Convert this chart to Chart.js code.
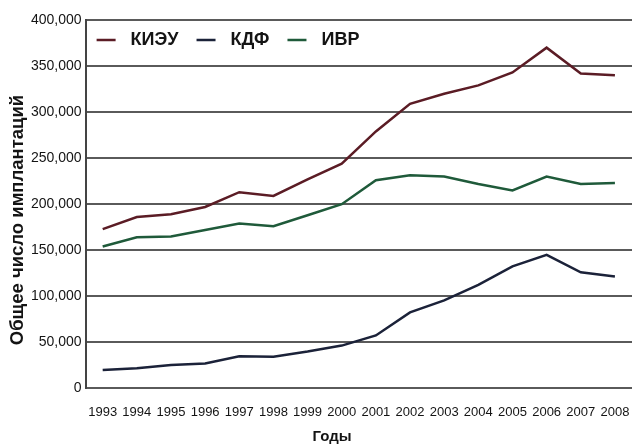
<!DOCTYPE html>
<html>
<head>
<meta charset="utf-8">
<script src="https://cdn.jsdelivr.net/npm/chart.js@4"></script>
<style>
  html, body { margin: 0; padding: 0; background: #fff; }
  #wrap { width: 633px; height: 447px; }
</style>
</head>
<body>
<div id="wrap"><canvas id="implantChart" width="633" height="447"></canvas></div>
<script>
const years = ['1993', '1994', '1995', '1996', '1997', '1998', '1999', '2000', '2001', '2002', '2003', '2004', '2005', '2006', '2007', '2008'];
const kieuData = [173000, 186000, 189000, 197000, 213000, 209000, 227000, 244000, 279000, 309000, 320000, 329000, 343000, 370000, 342000, 340000];
const kdfData = [20000, 22000, 25500, 27000, 35000, 34500, 40000, 46500, 57500, 82500, 95500, 112500, 132500, 145000, 126000, 121500];
const ivrData = [154000, 164000, 165000, 172000, 179000, 176000, 188000, 200000, 226000, 231500, 230000, 222000, 215000, 230000, 222000, 223000];
const seriesNames = ['КИЭУ', 'КДФ', 'ИВР'];
const seriesColors = ['#5b1c25', '#1b2239', '#1f5a3a'];
const xTitle = 'Годы';
const yTitle = 'Общее число имплантаций';

const labelFont = 'Arial, "Liberation Sans", sans-serif';

// legend inside the plot area, and both axis titles (placed off-centre like the original)
const extras = {
    id: 'extras',
    afterDraw(chart) {
        const ctx = chart.ctx;
        const area = chart.chartArea;
        const y = 40;
        let x = area.left + 11;
        ctx.save();
        ctx.font = 'bold 18px ' + labelFont;
        ctx.textBaseline = 'middle';
        chart.data.datasets.forEach((ds) => {
            ctx.strokeStyle = ds.borderColor;
            ctx.lineWidth = 2.5;
            ctx.beginPath();
            ctx.moveTo(x, y);
            ctx.lineTo(x + 19, y);
            ctx.stroke();
            ctx.fillStyle = '#141414';
            ctx.fillText(ds.label, x + 34, y);
            x += 34 + ctx.measureText(ds.label).width + 18;
        });
        ctx.textAlign = 'center';
        ctx.font = 'bold 15px ' + labelFont;
        ctx.fillText(xTitle, 332, 437);
        ctx.translate(18, 220);
        ctx.rotate(-Math.PI / 2);
        ctx.font = 'bold 18.5px ' + labelFont;
        ctx.fillText(yTitle, 0, 0);
        ctx.restore();
    }
};

const ctx = document.getElementById('implantChart').getContext('2d');
const implantChart = new Chart(ctx, {
    type: 'line',
    data: {
        labels: years,
        datasets: [
            { label: seriesNames[0], data: kieuData, borderColor: seriesColors[0] },
            { label: seriesNames[1], data: kdfData, borderColor: seriesColors[1] },
            { label: seriesNames[2], data: ivrData, borderColor: seriesColors[2] }
        ].map(d => Object.assign(d, { borderWidth: 2.5, pointRadius: 0, fill: false, tension: 0 }))
    },
    options: {
        responsive: false,
        animation: false,
        layout: { padding: { top: 20, right: 1, left: 27, bottom: 11 } },
        plugins: {
            legend: { display: false },
            tooltip: { enabled: false }
        },
        scales: {
            x: {
                offset: true,
                grid: { display: false, drawTicks: false },
                border: { display: false },
                ticks: {
                    color: '#141414',
                    font: { family: labelFont, size: 13 },
                    maxRotation: 0,
                    autoSkip: false,
                    padding: 16
                },
                afterFit: (scale) => {
                    scale.paddingLeft = 0;
                    scale.paddingRight = 0;
                }
            },
            y: {
                min: 0,
                max: 400000,
                grid: { color: '#5a5a5a', lineWidth: 2, drawTicks: false },
                border: { display: true, color: '#444', width: 2 },
                ticks: {
                    stepSize: 50000,
                    color: '#141414',
                    padding: 4,
                    font: { family: labelFont, size: 14 },
                    callback: v => v.toLocaleString('en-US')
                }
            }
        }
    },
    plugins: [extras]
});
</script>
</body>
</html>
